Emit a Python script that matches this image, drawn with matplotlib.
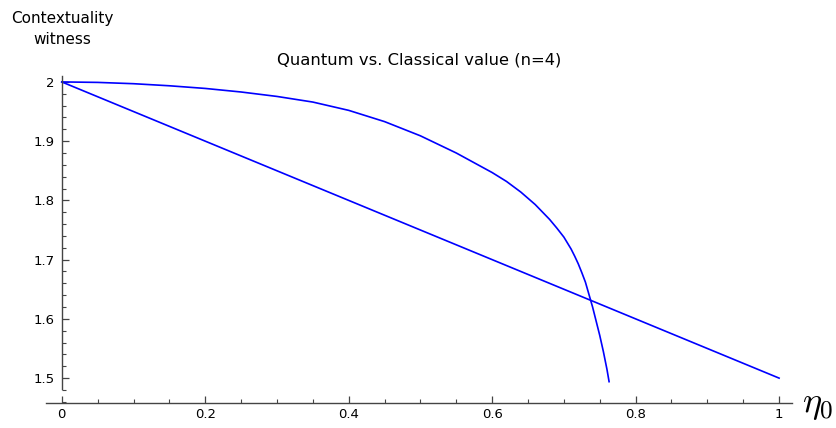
import numpy as np
import matplotlib
matplotlib.use("Agg")
import matplotlib.pyplot as plt
from matplotlib.ticker import MultipleLocator, FuncFormatter

# quantum value
eta_q = [0.0, 0.05, 0.1, 0.15, 0.2, 0.25, 0.3, 0.35, 0.4, 0.45, 0.5, 0.55,
         0.6, 0.62, 0.64, 0.66, 0.68, 0.69, 0.70, 0.71, 0.715, 0.72, 0.725,
         0.73, 0.74, 0.75, 0.755, 0.76, 0.763]
val_q = [2.0, 1.9992, 1.997, 1.9935, 1.989, 1.983, 1.9755, 1.966, 1.952, 1.933,
         1.909, 1.880, 1.847, 1.832, 1.814, 1.793, 1.768, 1.7535, 1.738, 1.718,
         1.706, 1.693, 1.678, 1.662, 1.620, 1.572, 1.545, 1.515, 1.494]

# classical value
eta_c = [0.0, 1.0]
val_c = [2.0, 1.5]

title = "Quantum vs. Classical value (n=4)"
ylabel = "Contextuality\nwitness"
xlabel = r"$\eta_0$"

plt.rcParams['mathtext.fontset'] = 'cm'

fig = plt.figure(figsize=(8.37, 4.28), dpi=100)
ax = fig.add_axes([46 / 837, 1 - 403 / 428, 746 / 837, 327 / 428])

ax.plot(eta_q, val_q, color='#0000ff', lw=1.2)
ax.plot(eta_c, val_c, color='#0000ff', lw=1.2)

ax.set_xlim(-0.022, 1.018)
ax.set_ylim(1.458, 2.010)

ax.spines['top'].set_visible(False)
ax.spines['right'].set_visible(False)
ax.spines['left'].set_position(('data', 0))
ax.spines['left'].set_bounds(1.481, 2.010)
for s in ('left', 'bottom'):
    ax.spines[s].set_color('#444444')
    ax.spines[s].set_linewidth(1.0)

ax.xaxis.set_major_locator(MultipleLocator(0.2))
ax.xaxis.set_minor_locator(MultipleLocator(0.05))
ax.yaxis.set_major_locator(MultipleLocator(0.1))
ax.yaxis.set_minor_locator(MultipleLocator(0.02))

def fmt(v, pos):
    s = f"{v:.1f}"
    if s.endswith(".0"):
        s = s[:-2]
    return s

ax.xaxis.set_major_formatter(FuncFormatter(fmt))
ax.yaxis.set_major_formatter(FuncFormatter(fmt))
ax.set_xticks([t for t in np.arange(0, 1.01, 0.2)])
ax.set_yticks([1.5, 1.6, 1.7, 1.8, 1.9, 2.0])

ax.tick_params(which='major', direction='in', length=5, width=0.9, color='#444444',
               labelsize=9.5)
ax.tick_params(axis='x', which='major', pad=3.5)
ax.tick_params(axis='y', which='major', pad=5)
ax.tick_params(which='minor', direction='in', length=3, width=0.8, color='#444444')

ax.set_title(title, fontsize=11.8, pad=8)
fig.text(62 / 837, 1 - 29 / 428, ylabel, ha='center', va='center', fontsize=11,
         linespacing=1.45)
fig.text(818 / 837, 1 - 405 / 428, xlabel, ha='center', va='center', fontsize=26)

fig.savefig("out.png", dpi=100)
